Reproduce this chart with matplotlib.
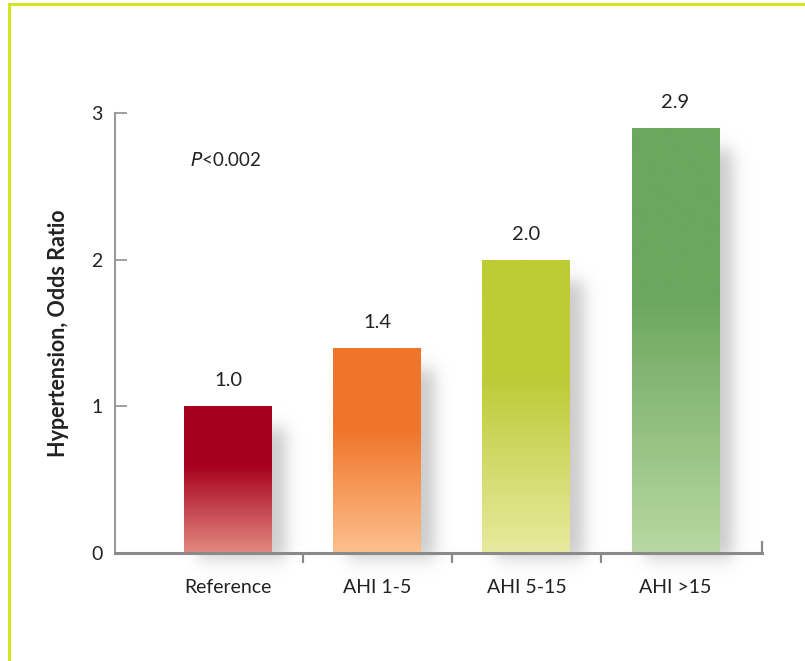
import numpy as np
import matplotlib
matplotlib.use("Agg")
import matplotlib.pyplot as plt
from matplotlib.colors import to_rgb
from matplotlib.lines import Line2D

categories = ["Reference", "AHI 1-5", "AHI 5-15", "AHI >15"]
odds_ratios = [1.0, 1.4, 2.0, 2.9]
value_labels = ["1.0", "1.4", "2.0", "2.9"]
top_colors = ["#A5001E", "#F0752A", "#BDCB35", "#6CA75E"]
bottom_colors = ["#E3897F", "#FDC08E", "#E7EA9E", "#B8D8A2"]
y_ticks = [0, 1, 2, 3]

plt.rcParams['font.family'] = ['Lato', 'DejaVu Sans']

fig = plt.figure(figsize=(8.05, 6.61), dpi=100)
fig.patch.set_facecolor('white')

# frame lines (top and left) in lime
border_col = '#D6E41E'
fig.add_artist(Line2D([8.5/805, 1.0], [1-3.5/661, 1-3.5/661], color=border_col, lw=2.2, transform=fig.transFigure))
fig.add_artist(Line2D([8.5/805, 8.5/805], [0, 1-3.5/661], color=border_col, lw=2.2, transform=fig.transFigure))

ax = fig.add_axes([115/805, 1-553/661, (762-115)/805, 440/661])
x = np.arange(len(categories))
width = 0.59
ax.set_xlim(-0.76, 3.58)
ax.set_ylim(0, 3)

# shadows
for xi, h in zip(x, odds_ratios):
    x0, x1 = xi - width/2, xi + width/2
    ex = (x0 - 0.05, x1 + 0.35, -0.2, h + 0.1)
    nx, ny = 200, 300
    gx = np.linspace(ex[0], ex[1], nx)
    gy = np.linspace(ex[2], ex[3], ny)
    X, Y = np.meshgrid(gx, gy)
    sx = 0.06
    sy = 0.07
    ox, oy = 0.09, -0.04
    a = (0.5*(1+np.tanh((X-(x0+ox))/sx))) * (0.5*(1-np.tanh((X-(x1+ox))/sx))) \
        * (0.5*(1+np.tanh((Y-(0+oy))/sy))) * (0.5*(1-np.tanh((Y-(h-0.15))/sy)))
    img = np.zeros((ny, nx, 4))
    img[..., :3] = 0.55
    img[..., 3] = a * 0.45
    ax.imshow(img, extent=ex, origin='lower', aspect='auto', zorder=1, interpolation='bilinear', clip_on=False)

# bars with gradient
bars = ax.bar(x, odds_ratios, width=width, facecolor='none', edgecolor='none', zorder=2)
for b, h, tc, bc in zip(bars, odds_ratios, top_colors, bottom_colors):
    n = 256
    t = np.linspace(0, 1, n)  # 0 bottom -> 1 top
    frac = np.clip((0.6 - t) / 0.6, 0, 1)
    tcr, bcr = np.array(to_rgb(tc)), np.array(to_rgb(bc))
    cols = tcr[None, :] * (1 - frac[:, None]) + bcr[None, :] * frac[:, None]
    img = np.repeat(cols[:, None, :], 2, axis=1)
    x0 = b.get_x()
    im = ax.imshow(img, extent=(x0, x0 + b.get_width(), 0, h), origin='lower',
                   aspect='auto', zorder=2, interpolation='bilinear')
    im.set_clip_path(b)

for xi, h, lab in zip(x, odds_ratios, value_labels):
    ax.text(xi, h + 0.115, lab, ha='center', va='bottom', fontsize=14.5, color='#222222', zorder=5)

ax.text(-0.02, 2.68, r"$\it{P}$<0.002", ha='center', va='center', fontsize=13.5, color='#222222')

# spines and ticks
for s in ['top', 'right']:
    ax.spines[s].set_visible(False)
ax.spines['left'].set_color('#9a9a9a')
ax.spines['left'].set_linewidth(1.5)
ax.spines['bottom'].set_color('#8a8a8a')
ax.spines['bottom'].set_linewidth(2.2)
ax.spines['left'].set_zorder(3)
ax.spines['bottom'].set_zorder(3)

ax.set_yticks(y_ticks)
ax.set_yticklabels([str(v) for v in y_ticks])
ax.tick_params(axis='y', direction='in', length=8.5, width=1.3, color='#9a9a9a', pad=9,
               labelsize=14, labelcolor='#222222')
ax.set_xticks(x)
ax.set_xticklabels(categories)
ax.tick_params(axis='x', which='major', length=0, pad=19, labelsize=14, labelcolor='#222222')
ax.set_xticks([0.5, 1.5, 2.5], minor=True)
ax.tick_params(axis='x', which='minor', direction='out', length=7, width=1.6, color='#8a8a8a')
ax.plot([1, 1], [0, 0.024], transform=ax.transAxes, color='#8a8a8a', lw=1.6, clip_on=False, zorder=3)

ax.set_ylabel("Hypertension, Odds Ratio", fontsize=15.5, fontweight='bold', color='#222222', labelpad=16)

fig.savefig("out.png", dpi=100, facecolor='white')
